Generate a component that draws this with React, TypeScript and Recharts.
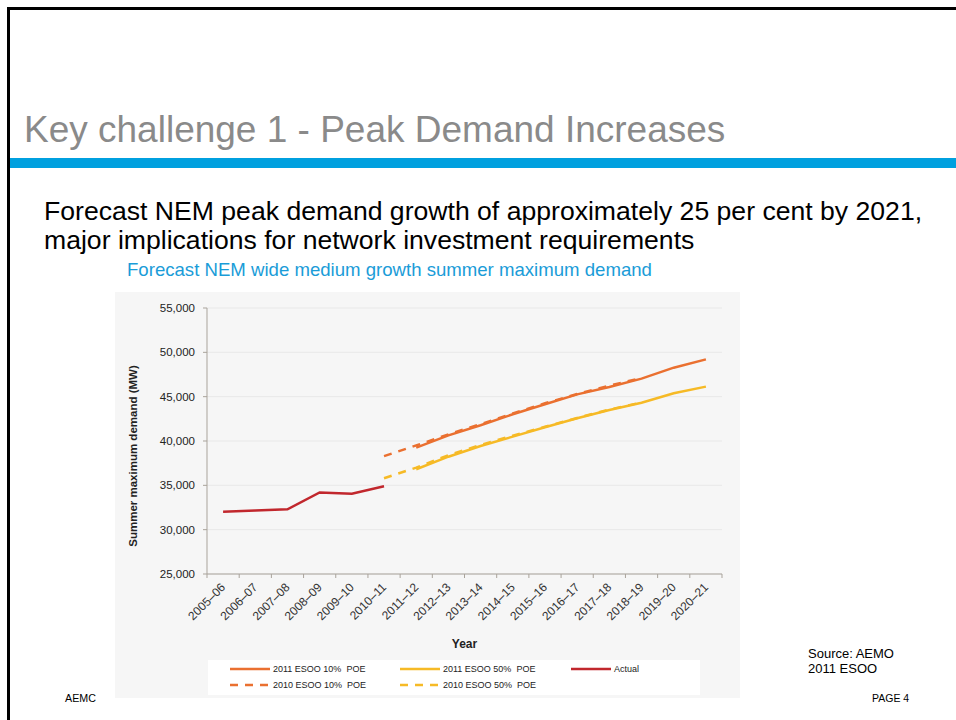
import React from 'react';
import { LineChart, Line, XAxis, YAxis, CartesianGrid, Legend, Label } from 'recharts';

const years = [
  '2005–06', '2006–07', '2007–08', '2008–09', '2009–10', '2010–11', '2011–12', '2012–13',
  '2013–14', '2014–15', '2015–16', '2016–17', '2017–18', '2018–19', '2019–20', '2020–21',
];
const actual = [32030, 32150, 32300, 34200, 34050, 34900, null, null, null, null, null, null, null, null, null, null];
const esoo2011p10 = [null, null, null, null, null, null, 39250, 40640, 41770, 43010, 44140, 45260, 46090, 47030, 48270, 49210];
const esoo2011p50 = [null, null, null, null, null, null, 36810, 38230, 39440, 40490, 41550, 42560, 43500, 44320, 45380, 46130];
const esoo2010p10 = [null, null, null, null, null, 38300, 39500, 40750, 41900, 43100, 44250, 45300, 46250, 47100, null, null];
const esoo2010p50 = [null, null, null, null, null, 35800, 37000, 38400, 39550, 40600, 41600, 42600, 43550, 44350, null, null];
const yTicks = [25000, 30000, 35000, 40000, 45000, 50000, 55000];

const data = years.map((year, i) => ({
  year,
  p10_2011: esoo2011p10[i],
  p50_2011: esoo2011p50[i],
  actual: actual[i],
  p10_2010: esoo2010p10[i],
  p50_2010: esoo2010p50[i],
}));

const ORANGE = '#ea7030';
const YELLOW = '#f6ba26';
const RED = '#c1272d';
const FONT = 'Arial, "Liberation Sans", sans-serif';

// legend layout: row, col
const series = [
  { key: 'p10_2011', name: '2011 ESOO 10%  POE', color: ORANGE, dashed: false, row: 0, col: 0 },
  { key: 'p50_2011', name: '2011 ESOO 50%  POE', color: YELLOW, dashed: false, row: 0, col: 1 },
  { key: 'actual', name: 'Actual', color: RED, dashed: false, row: 0, col: 2 },
  { key: 'p10_2010', name: '2010 ESOO 10%  POE', color: ORANGE, dashed: true, row: 1, col: 0 },
  { key: 'p50_2010', name: '2010 ESOO 50%  POE', color: YELLOW, dashed: true, row: 1, col: 1 },
];

const colX = [22, 192, 363];
const rowY = [9, 25];

const LegendBox = () => (
  <div style={{ position: 'relative', width: 492, height: 35, background: '#fff' }}>
    {series.map((s) => (
      <div
        key={s.key}
        style={{
          position: 'absolute', left: colX[s.col], top: rowY[s.row] - 6, height: 12,
          display: 'flex', alignItems: 'center', whiteSpace: 'pre',
        }}
      >
        <svg width={40} height={4} style={{ display: 'block' }}>
          <line x1={0} y1={2} x2={40} y2={2} stroke={s.color} strokeWidth={2.5}
            strokeDasharray={s.dashed ? '8 7' : undefined} />
        </svg>
        <span style={{ marginLeft: 3, fontSize: 9, fontFamily: FONT, color: '#222' }}>{s.name}</span>
      </div>
    ))}
  </div>
);

const XTick = (props: any) => {
  const { x, y, payload, index } = props;
  const off = payload.offset || 0;
  return (
    <g>
      <line x1={x - off} x2={x - off} y1={y - 4} y2={y} stroke="#a9a39b" />
      {index === years.length - 1 && (
        <line x1={x + off} x2={x + off} y1={y - 4} y2={y} stroke="#a9a39b" />
      )}
      <text
        x={x + 3} y={y + 10}
        transform={`rotate(-45 ${x + 3} ${y + 10})`}
        textAnchor="end" fontSize={12} fontFamily={FONT} fill="#333"
      >
        {payload.value}
      </text>
    </g>
  );
};

const YTitle = (props: any) => {
  const vb = props.viewBox;
  const cx = vb.x + 18;
  const cy = vb.y + vb.height / 2 + 15;
  return (
    <text x={cx} y={cy} transform={`rotate(-90 ${cx} ${cy})`} textAnchor="middle"
      dominantBaseline="central" fontSize={11.5} fontWeight="bold" fontFamily={FONT} fill="#222">
      Summer maximum demand (MW)
    </text>
  );
};

const XTitle = (props: any) => {
  const vb = props.viewBox;
  return (
    <text x={vb.x + vb.width / 2} y={vb.y + 74} textAnchor="middle"
      fontSize={12} fontWeight="bold" fontFamily={FONT} fill="#222">
      Year
    </text>
  );
};

const txt = (fs: number, baseline: number): React.CSSProperties => ({
  position: 'absolute', fontFamily: FONT, fontSize: fs, lineHeight: 1,
  top: baseline - 0.8465 * fs, whiteSpace: 'nowrap', margin: 0,
});

export default function App() {
  return (
    <div style={{ position: 'absolute', left: 0, top: 0, width: 956, height: 720, overflow: 'hidden', background: '#fff' }}>
      <div style={{ position: 'absolute', left: 7, top: 7, width: 960, height: 720, borderTop: '3px solid #000', borderLeft: '3px solid #000' }} />
      <div style={{ ...txt(37, 142), left: 24, color: '#8a8a8a' }}>Key challenge 1 - Peak Demand Increases</div>
      <div style={{ position: 'absolute', left: 10, top: 158, width: 946, height: 10, background: '#00a0df' }} />
      <div style={{ ...txt(26.6, 221), left: 44, color: '#000' }}>
        Forecast NEM peak demand growth of approximately 25 per cent by 2021,
      </div>
      <div style={{ ...txt(26.6, 250), left: 44, color: '#000' }}>
        major implications for network investment requirements
      </div>
      <div style={{ ...txt(18.6, 277), left: 127, color: '#1a9cd8' }}>
        Forecast NEM wide medium growth summer maximum demand
      </div>

      <div style={{ position: 'absolute', left: 115, top: 292, width: 625, height: 406, background: '#f6f6f6' }}>
        <LineChart width={625} height={406} data={data} margin={{ top: 16, right: 18, left: 0, bottom: 3 }}>
          <CartesianGrid vertical={false} stroke="#e8e8e8" />
          <XAxis
            dataKey="year" scale="band" interval={0} height={86}
            axisLine={{ stroke: '#a9a39b' }} tickLine={false} tickSize={4} tickMargin={0}
            tick={<XTick />}
            label={<Label content={<XTitle />} />}
          />
          <YAxis
            width={92} domain={[25000, 55000]} ticks={yTicks} interval={0}
            axisLine={{ stroke: '#a9a39b' }} tickLine={{ stroke: '#a9a39b' }} tickSize={4} tickMargin={8}
            tick={{ fontSize: 11.5, fontFamily: FONT, fill: '#222' }}
            tickFormatter={(v: number) => v.toLocaleString('en-US')}
            label={<Label content={<YTitle />} />}
          />
          <Legend verticalAlign="bottom" content={() => <LegendBox />}
            wrapperStyle={{ left: 93, bottom: 3, width: 492, height: 35 }} />
          {series.map((s) => (
            <Line
              key={s.key} dataKey={s.key} name={s.name} stroke={s.color} strokeWidth={2.5}
              strokeDasharray={s.dashed ? '8 7' : undefined} dot={false} activeDot={false}
              isAnimationActive={false}
            />
          ))}
        </LineChart>
      </div>

      <div style={{ ...txt(13, 658), left: 808, color: '#000' }}>Source: AEMO</div>
      <div style={{ ...txt(13, 673), left: 808, color: '#000' }}>2011 ESOO</div>
      <div style={{ ...txt(10.7, 702), left: 65, color: '#000' }}>AEMC</div>
      <div style={{ ...txt(10.5, 702), left: 872, color: '#000' }}>PAGE 4</div>
    </div>
  );
}
